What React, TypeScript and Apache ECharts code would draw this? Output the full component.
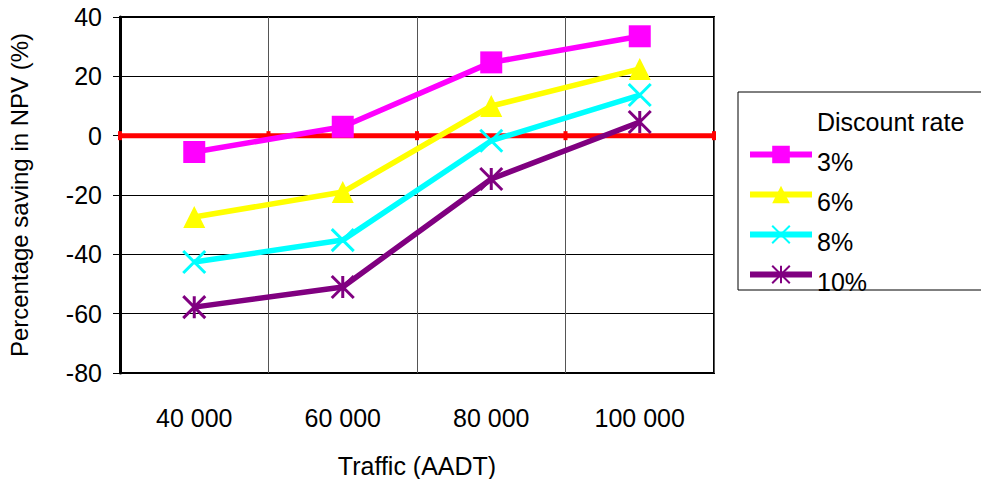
import React, { useEffect, useRef } from "react";
import * as echarts from "echarts";

const categories = ["40 000", "60 000", "80 000", "100 000"];
const seriesNames = ["3%", "6%", "8%", "10%"];
const rate3 = [-5.5, 3, 24.7, 33.5];
const rate6 = [-27.4, -19, 10, 22.5];
const rate8 = [-42.6, -35.2, -1.7, 13.7];
const rate10 = [-57.8, -51, -14.6, 4.6];
const zeroLine = [[0, 0], [1, 0], [2, 0], [3, 0], [4, 0]];
const yTicks = { min: -80, max: 40, interval: 20 };

const FONT = "'Liberation Sans', Arial, sans-serif";
const crossPath = "path://M0 0 L20 20 M20 0 L0 20";
const starPath = "path://M0 0 L20 20 M20 0 L0 20 M10 0 L10 20";

export default function App() {
  const ref = useRef<HTMLDivElement>(null);
  useEffect(() => {
    const chart = echarts.init(ref.current!, null, { renderer: "svg" });
    const mk = (name: string, data: number[], color: string, symbol: string, stroke: boolean) => ({
      name,
      type: "line",
      data,
      xAxisIndex: 0,
      yAxisIndex: 0,
      symbol,
      symbolSize: 22,
      lineStyle: { color, width: 5.5 },
      itemStyle: stroke
        ? { color, borderColor: color, borderWidth: 3 }
        : { color, borderWidth: 0 },
      z: 3,
    });
    chart.setOption({
      animation: false,
      textStyle: { fontFamily: FONT },
      grid: {
        left: 120, right: 267, top: 17, bottom: 106,
        show: true, borderColor: "#000", borderWidth: 2,
        containLabel: false, outerBoundsMode: "none",
      },
      legend: {
        left: 742,
        top: 130,
        orient: "vertical",
        itemWidth: 62,
        itemHeight: 22,
        itemGap: 1,
        data: seriesNames,
        lineStyle: { width: 6 },
        formatter: "{t|{name}}",
        textStyle: {
          fontSize: 25, color: "#000", fontFamily: FONT,
          rich: { t: { fontSize: 25, color: "#000", fontFamily: FONT, padding: [14, 0, 0, 0], lineHeight: 22 } },
        },
      },
      graphic: [
        { type: "rect", shape: { x: 738, y: 92, width: 260, height: 198 }, style: { fill: "none", stroke: "#000", lineWidth: 1 } },
        { type: "text", x: 817, y: 122, style: { text: "Discount rate", font: `25px ${FONT}`, fill: "#000", verticalAlign: "middle" } },
      ],
      xAxis: [
        {
          type: "category",
          data: categories,
          boundaryGap: true,
          axisLine: { lineStyle: { color: "#000", width: 3 } },
          axisTick: { show: false },
          axisLabel: { fontSize: 25, color: "#000", margin: 32, fontFamily: FONT },
          splitLine: { show: true, interval: 0, lineStyle: { color: "#555", width: 1 } },
          name: "Traffic (AADT)",
          nameLocation: "middle",
          nameGap: 80,
          nameTextStyle: { fontSize: 25, color: "#000", fontFamily: FONT },
        },
        { type: "value", min: 0, max: 4, show: false },
      ],
      yAxis: {
        type: "value",
        min: yTicks.min,
        max: yTicks.max,
        interval: yTicks.interval,
        axisLine: { show: true, lineStyle: { color: "#000", width: 3 } },
        axisTick: { show: true, length: 7, lineStyle: { color: "#000", width: 1 } },
        axisLabel: { fontSize: 25, color: "#000", margin: 18, fontFamily: FONT },
        splitLine: { show: true, lineStyle: { color: "#000", width: 1 } },
        name: "Percentage saving in NPV (%)",
        nameLocation: "middle",
        nameGap: 89,
        nameTextStyle: { fontSize: 24, color: "#000", fontFamily: FONT },
      },
      series: [
        {
          name: "zero",
          type: "line",
          xAxisIndex: 1,
          data: zeroLine,
          symbol: "rect",
          symbolSize: [4, 9],
          lineStyle: { color: "#ff0000", width: 5 },
          itemStyle: { color: "#ff0000" },
          z: 2,
        },
        mk(seriesNames[0], rate3, "#ff00ff", "rect", false),
        mk(seriesNames[1], rate6, "#ffff00", "triangle", false),
        mk(seriesNames[2], rate8, "#00ffff", crossPath, true),
        mk(seriesNames[3], rate10, "#800080", starPath, true),
      ],
    });
    return () => chart.dispose();
  }, []);
  return <div ref={ref} style={{ width: 981, height: 479, position: "absolute", left: 0, top: 0 }} />;
}
